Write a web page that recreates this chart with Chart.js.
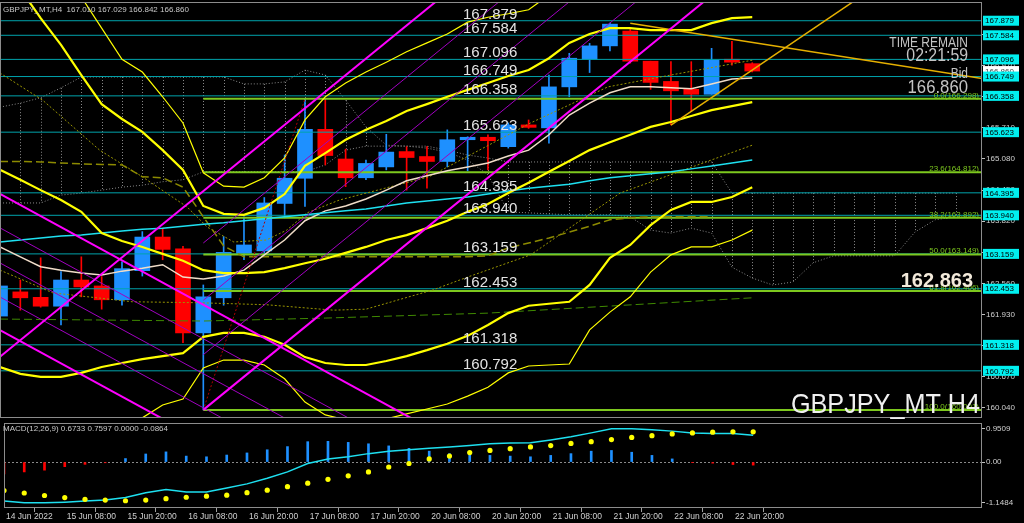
<!DOCTYPE html>
<html>
<head>
<meta charset="utf-8">
<script src="https://cdn.jsdelivr.net/npm/chart.js@4.4.1/dist/chart.umd.min.js"></script>
<style>
  html, body { margin: 0; padding: 0; background: #000; overflow: hidden; }
  #wrap { position: relative; width: 1024px; height: 523px; background: #000; }
  canvas { position: absolute; left: 0; }
  #main { top: 0; }
  #macd { top: 419px; }
</style>
</head>
<body>
<div id="wrap">
  <canvas id="main" width="1024" height="420"></canvas>
  <canvas id="macd" width="1024" height="104"></canvas>
</div>
<script>
// ---- data (H4 bars, 14 Jun 20:00 .. 23 Jun 00:00) ----
const timeLabels = ['14 Jun 2022', '15 Jun 08:00', '15 Jun 20:00', '16 Jun 08:00', '16 Jun 20:00', '17 Jun 08:00',
  '17 Jun 20:00', '20 Jun 08:00', '20 Jun 20:00', '21 Jun 08:00', '21 Jun 20:00', '22 Jun 08:00', '22 Jun 20:00'];
const timeLabelBars = [0, 3, 6, 9, 12, 15, 18, 21, 24, 27, 30, 33, 36];

const openP  = [161.90,162.39,162.28,162.10,162.63,162.51,162.23,162.82,163.50,163.26,161.56,162.27,163.17,163.22,164.18,164.69,165.68,165.08,164.70,164.92,165.23,165.13,165.03,165.47,165.52,165.33,165.77,165.71,166.54,167.10,167.37,167.67,167.06,166.65,166.49,166.39,167.10,167.010];
const highP  = [162.56,162.63,163.08,162.80,163.10,162.70,163.00,163.61,163.68,163.31,162.53,163.51,163.91,164.30,165.16,166.298,166.28,165.28,165.06,165.58,165.33,165.33,165.67,165.53,165.57,165.81,165.87,166.78,167.22,167.42,167.83,167.73,167.06,167.05,167.05,167.32,167.46,167.029];
const lowP   = [161.85,162.02,162.08,161.72,162.29,162.04,162.12,162.71,163.04,161.36,160.001,162.12,163.04,163.17,163.89,164.12,164.96,164.52,164.66,164.86,164.45,164.49,164.92,164.84,164.86,165.30,165.70,165.40,166.34,166.83,167.27,167.02,166.49,165.768,166.04,166.39,166.98,166.842];
const closeP = [162.51,162.27,162.10,162.63,162.49,162.23,162.86,163.50,163.25,161.56,162.29,163.19,163.34,164.19,164.69,165.68,165.15,164.70,164.99,165.22,165.11,165.03,165.47,165.52,165.45,165.77,165.72,166.54,167.12,167.37,167.81,167.06,166.63,166.46,166.39,167.08,167.04,166.860];

// yellow bands
const upperOuter = [171.0,170.22,169.57,168.97,168.36,167.73,167.10,166.84,166.34,165.81,164.80,164.53,164.51,164.70,165.10,165.87,166.34,166.62,166.84,167.04,167.25,167.43,167.61,167.85,167.95,168.02,168.10,168.40,168.70,168.90,169.0,169.0,168.9,168.8,168.7,168.7,168.6,168.6];
const upperInner = [169.07,168.52,167.93,167.39,166.78,166.19,165.89,165.63,165.26,164.86,164.13,163.97,163.95,164.09,164.37,164.94,165.20,165.47,165.67,165.85,166.05,166.19,166.34,166.48,166.62,166.76,166.88,167.12,167.43,167.61,167.73,167.73,167.69,167.69,167.69,167.83,167.93,167.95];
const midBand    = [164.86,164.66,164.45,164.25,164.01,163.58,163.42,163.30,163.16,163.02,162.83,162.77,162.77,162.79,162.87,162.97,163.06,163.18,163.30,163.44,163.54,163.68,163.83,164.01,164.17,164.39,164.60,164.82,165.04,165.26,165.42,165.57,165.73,165.83,165.95,166.07,166.15,166.23];
const lowerInner = [160.87,160.73,160.67,160.67,160.75,160.87,160.95,161.03,161.09,161.15,161.48,161.56,161.56,161.48,161.32,161.07,160.95,160.91,160.91,160.99,161.09,161.21,161.34,161.50,161.72,161.96,162.11,162.15,162.19,162.53,163.08,163.34,163.74,164.05,164.21,164.21,164.31,164.51];
const lowerOuter = [158.78,158.89,158.99,159.09,159.29,159.49,159.63,159.84,160.10,160.22,160.85,161.01,161.01,160.91,160.63,160.16,159.90,159.80,159.78,159.82,159.92,160.02,160.12,160.28,160.46,160.75,160.89,160.91,160.93,161.62,161.98,162.29,162.79,163.14,163.30,163.30,163.44,163.64];

// moving averages
const beigeMA = [163.30,163.10,162.90,162.83,162.77,162.73,162.81,162.87,162.94,162.69,162.65,162.71,162.83,163.14,163.44,163.83,164.03,164.13,164.27,164.45,164.64,164.74,164.84,164.92,165.00,165.14,165.26,165.57,165.97,166.21,166.42,166.54,166.54,166.52,166.50,166.60,166.70,166.72];
const cyanMA  = [163.40,163.44,163.48,163.52,163.54,163.58,163.62,163.66,163.68,163.72,163.76,163.79,163.83,163.87,163.91,163.95,163.99,164.03,164.07,164.13,164.19,164.23,164.27,164.31,164.37,164.43,164.49,164.53,164.57,164.64,164.70,164.74,164.78,164.82,164.88,164.94,165.00,165.06];
const kijunDash = [165.03,165.03,165.02,165.00,164.98,164.97,164.96,164.72,164.70,164.51,163.91,163.32,163.10,163.10,163.10,163.10,163.10,163.10,163.10,163.10,163.10,163.10,163.10,163.10,163.12,163.28,163.38,163.48,163.60,163.72,163.85,163.89,163.91,163.91,163.91,163.91];
const greenDashBars = [0, 10, 16, 24, 37];
const greenDashP    = [161.84, 161.80, 161.86, 161.96, 162.27];
const oliveDotABars = [0, 2.1, 4.9, 7, 9.2, 10.2, 11.5, 13.1, 14.1, 15.1, 16.7, 21.1, 26.1, 29.9, 33, 37];
const oliveDotAP    = [166.82,166.27,165.26,164.72,164.11,163.70,163.40,163.44,163.64,163.99,164.25,164.72,165.81,166.54,166.78,167.08];
const oliveDotBBars = [0, 2.6, 6.5, 9.8, 13.1, 16.4, 18, 21.3, 23, 26.1, 30.5, 37];
const oliveDotBP    = [162.83,162.37,162.19,162.17,162.13,162.02,162.04,162.43,162.69,163.14,164.39,165.36];

// ichimoku cloud (shifted forward)
const senkouA = [166.13,166.21,166.32,166.52,166.74,166.74,166.74,166.74,166.74,166.74,166.74,166.74,166.60,166.60,166.64,166.88,166.78,166.27,165.73,165.36,165.34,165.34,165.26,165.16,165.10,165.02,165.02,165.02,165.02,165.02,165.02,165.02,165.02,165.02,165.02,165.02,164.39,164.39,164.39,164.39,164.39,164.39,164.39,164.39,164.39,164.39,164.39,164.39];
const senkouB = [164.19,164.19,164.19,164.35,164.39,164.45,164.51,164.55,164.62,164.66,164.82,164.82,164.82,164.82,164.82,164.82,164.96,165.26,165.34,165.34,165.34,165.30,165.22,165.06,164.76,164.01,163.99,163.97,163.95,163.95,163.95,163.91,163.64,163.58,163.68,163.58,162.89,162.67,162.53,162.59,162.98,163.12,163.12,163.12,163.12,163.60,163.85,163.91];

// horizontal levels and fibonacci
const levels = [167.879, 167.584, 167.096, 166.749, 166.358, 165.623, 164.395, 163.940, 163.159, 162.453, 161.318, 160.792];
const bidPrice = 166.860;
const fibRatios = ['0.0', '23.6', '38.2', '50.0', '61.8', '100.0'];
const fibPrices = [166.298, 164.812, 163.892, 163.149, 162.406, 160.001];
const fibStartBar = 10;
const axisTicks = [160.040, 160.670, 161.300, 161.930, 162.560, 163.190, 163.820, 164.450, 165.080, 165.710, 166.340, 166.970, 167.600];

// trend lines: [bar, price] pairs
const upChannelThick = [[[-1, 160.74], [25, 169.46]], [[10, 160.001], [40, 170.07]]];
const upChannelThin = [[[10, 163.38], [40, 173.45]], [[10, 162.22], [40, 172.29]], [[10, 161.12], [40, 171.19]]];
const downChannelThick = [[[-1, 164.60], [30, 157.64]], [[-1, 161.84], [20, 157.13]]];
const downChannelThin = [[[-1, 163.91], [30, 156.95]], [[-1, 163.20], [30, 156.25]], [[-1, 162.51], [30, 155.56]]];
const goldLines = [[[31, 167.83], [50, 166.60]], [[33, 165.768], [45, 169.11]]];
const fibDiagonal = [[10, 160.001], [15, 166.298]];

// MACD(12,26,9)
const macdHist = [-0.34,-0.28,-0.23,-0.13,-0.065,-0.02,0.10,0.23,0.29,0.17,0.15,0.20,0.26,0.35,0.44,0.58,0.59,0.56,0.52,0.46,0.39,0.31,0.24,0.26,0.19,0.17,0.15,0.19,0.24,0.31,0.33,0.28,0.19,0.09,-0.01,-0.03,-0.07,-0.0864];
const macdSignal = [-1.11,-1.16,-1.16,-1.14,-1.11,-1.08,-1.01,-0.87,-0.78,-0.85,-0.85,-0.74,-0.62,-0.46,-0.28,-0.04,0.09,0.15,0.24,0.31,0.35,0.39,0.43,0.47,0.52,0.54,0.55,0.63,0.72,0.83,0.95,0.95,0.92,0.88,0.83,0.81,0.81,0.7597];
const macdDots = [-0.81,-0.88,-0.95,-1.01,-1.06,-1.08,-1.10,-1.08,-1.04,-1.00,-0.97,-0.94,-0.87,-0.80,-0.70,-0.60,-0.49,-0.39,-0.28,-0.14,-0.04,0.09,0.17,0.27,0.33,0.38,0.43,0.47,0.53,0.58,0.64,0.70,0.75,0.80,0.83,0.85,0.86,0.86];
const macdTicks = [0.9509, 0, -1.1484];

// ---- chart ----
const FONT = '"Liberation Sans", Arial, sans-serif';
Chart.defaults.font.family = FONT;
const BULL = '#1e90ff', BEAR = '#ff0000';
const X_MAX = 48.3;

const line = (xs, ys, style) => Object.assign({
  type: 'line', data: xs.map((x, i) => ({ x, y: ys[i] })),
  pointRadius: 0, fill: false, tension: 0, clip: 0, borderWidth: 1
}, style);
const series = (ys, style) => line(ys.map((_, i) => i), ys, style);
const segment = (seg, style) => line(seg.map(p => p[0]), seg.map(p => p[1]), style);

const bars = openP.map((_, i) => i);
const candleColor = bars.map(i => closeP[i] >= openP[i] ? BULL : BEAR);

const mainSets = [
  { type: 'bar', data: bars.map(i => ({ x: i, y: [lowP[i], highP[i]] })), backgroundColor: candleColor,
    grouped: false, maxBarThickness: 1, categoryPercentage: 1, barPercentage: 1, order: 60, clip: 0 },
  { type: 'bar', data: bars.map(i => ({ x: i, y: [openP[i], closeP[i]] })), backgroundColor: candleColor,
    grouped: false, maxBarThickness: 15, categoryPercentage: 1, barPercentage: 1, minBarLength: 1, order: 59, clip: 0 }
];
levels.forEach(p => mainSets.push(line([-1, 50], [p, p], { borderColor: '#00a3ab', order: 50 })));
fibPrices.forEach(p => mainSets.push(line([fibStartBar, 50], [p, p], { borderColor: '#7dc81e', borderWidth: 2, order: 49 })));
mainSets.push(line(greenDashBars, greenDashP, { borderColor: '#3f8a00', borderDash: [8, 4], order: 40 }));
mainSets.push(series(kijunDash, { borderColor: '#8c8a00', borderDash: [8, 4], borderWidth: 1.5, order: 40 }));
mainSets.push(line(oliveDotABars, oliveDotAP, { borderColor: '#9a9600', borderDash: [2, 2], order: 40 }));
mainSets.push(line(oliveDotBBars, oliveDotBP, { borderColor: '#9a9600', borderDash: [2, 2], order: 40 }));
mainSets.push(series(cyanMA, { borderColor: '#1ee0f0', borderWidth: 1.5, order: 30 }));
mainSets.push(series(beigeMA, { borderColor: '#f0dcc8', borderWidth: 1.5, order: 30 }));
mainSets.push(series(upperOuter, { borderColor: '#ffff00', borderWidth: 1.2, order: 20 }));
mainSets.push(series(lowerOuter, { borderColor: '#ffff00', borderWidth: 1.2, order: 20 }));
mainSets.push(series(upperInner, { borderColor: '#ffff00', borderWidth: 2.2, order: 20 }));
mainSets.push(series(midBand, { borderColor: '#ffff00', borderWidth: 2.2, order: 20 }));
mainSets.push(series(lowerInner, { borderColor: '#ffff00', borderWidth: 2.2, order: 20 }));
upChannelThick.concat(downChannelThick).forEach(s => mainSets.push(segment(s, { borderColor: '#ff00ff', borderWidth: 2, order: 10 })));
upChannelThin.concat(downChannelThin).forEach(s => mainSets.push(segment(s, { borderColor: '#a000c0', borderWidth: 1, order: 10 })));
goldLines.forEach(s => mainSets.push(segment(s, { borderColor: '#e6b000', borderWidth: 1.5, order: 10 })));
mainSets.push(segment(fibDiagonal, { borderColor: '#b00000', borderDash: [2, 2], order: 10 }));

function text(ctx, str, x, y, font, color, align, sx) {
  ctx.save();
  ctx.font = font; ctx.fillStyle = color; ctx.textAlign = align || 'left'; ctx.textBaseline = 'alphabetic';
  ctx.translate(x, y); ctx.scale(sx || 1, 1);
  ctx.fillText(str, 0, 0);
  ctx.restore();
}

function frame(ctx, a) {
  ctx.save();
  ctx.strokeStyle = '#8c8c8c'; ctx.lineWidth = 1;
  ctx.strokeRect(a.left + 0.5, a.top + 0.5, a.right - a.left - 1, a.bottom - a.top - 1);
  ctx.restore();
}

const mainDecor = {
  id: 'mainDecor',
  beforeDatasetsDraw(chart) {
    const { ctx, chartArea: a, scales: { x, y } } = chart;
    ctx.save();
    ctx.beginPath(); ctx.rect(a.left, a.top, a.right - a.left, a.bottom - a.top); ctx.clip();
    ctx.strokeStyle = '#8a8a8a'; ctx.lineWidth = 1; ctx.setLineDash([1, 2]);
    senkouA.forEach((v, i) => {
      const px = Math.round(x.getPixelForValue(i)) + 0.5;
      ctx.beginPath();
      ctx.moveTo(px, y.getPixelForValue(v));
      ctx.lineTo(px, y.getPixelForValue(senkouB[i]));
      ctx.stroke();
    });
    [senkouA, senkouB].forEach(s => {
      ctx.beginPath();
      s.forEach((v, i) => {
        const px = x.getPixelForValue(i), py = y.getPixelForValue(v);
        if (i) ctx.lineTo(px, py); else ctx.moveTo(px, py);
      });
      ctx.stroke();
    });
    ctx.restore();
  },
  afterDraw(chart) {
    const { ctx, chartArea: a, scales: { y } } = chart;
    frame(ctx, a);
    // level captions inside the plot
    levels.forEach(p => text(ctx, p.toFixed(3), 463, y.getPixelForValue(p) - 2, '15px ' + FONT, '#e4e4e4'));
    // fibonacci captions
    fibPrices.forEach((p, i) => text(ctx, fibRatios[i] + '(' + p.toFixed(3) + ')', 979, y.getPixelForValue(p) - 1,
      '8px ' + FONT, '#7dc81e', 'right'));
    // price boxes on the axis
    ctx.save();
    ctx.font = '8px ' + FONT; ctx.textBaseline = 'middle';
    const by = y.getPixelForValue(bidPrice);
    ctx.fillStyle = '#ffffff'; ctx.fillRect(983, by - 5, 36, 10);
    ctx.fillStyle = '#404040'; ctx.fillText(bidPrice.toFixed(3), 985, by + 0.5);
    levels.forEach(p => {
      const py = y.getPixelForValue(p);
      ctx.fillStyle = '#00f0f0'; ctx.fillRect(983, py - 5, 36, 10);
      ctx.fillStyle = '#000000'; ctx.fillText(p.toFixed(3), 985, py + 0.5);
    });
    ctx.restore();
    // texts
    text(ctx, 'GBPJPY_MT,H4  ' + [openP[37], highP[37], lowP[37], closeP[37]].map(v => v.toFixed(3)).join(' '),
      3, 12, '8px ' + FONT, '#c8c8c8');
    text(ctx, 'TIME REMAIN', 968, 47, '15px ' + FONT, '#c4c4c4', 'right', 0.8);
    text(ctx, '02:21:59', 968, 61, '18px ' + FONT, '#c4c4c4', 'right', 0.88);
    text(ctx, 'Bid', 968, 78, '15px ' + FONT, '#c4c4c4', 'right', 0.8);
    text(ctx, bidPrice.toFixed(3), 968, 93, '19px ' + FONT, '#c4c4c4', 'right', 0.88);
    text(ctx, '162.863', 973, 287, 'bold 20px ' + FONT, '#f3eadb', 'right');
    text(ctx, 'GBPJPY_MT H4', 980, 413, '28px ' + FONT, '#f0f0f0', 'right', 0.9);
  }
};

new Chart(document.getElementById('main'), {
  type: 'bar',
  data: { datasets: mainSets },
  options: {
    responsive: false, animation: false, events: [],
    layout: { padding: { top: 2, bottom: 2, left: 0, right: 0 } },
    plugins: { legend: { display: false }, tooltip: { enabled: false } },
    scales: {
      x: { type: 'linear', min: 0, max: X_MAX, offset: false, display: false },
      y: {
        type: 'linear', position: 'right', min: 159.837, max: 168.258,
        afterBuildTicks: s => { s.ticks = axisTicks.map(v => ({ value: v })); },
        afterFit: s => { s.width = 42; s.paddingTop = 0; s.paddingBottom = 0; },
        ticks: { autoSkip: false, padding: 1, color: '#d0d0d0', font: { size: 8 }, callback: v => v.toFixed(3) },
        grid: { drawOnChartArea: false, drawTicks: true, tickLength: 3, color: '#c0c0c0' },
        border: { display: false }
      }
    }
  },
  plugins: [mainDecor]
});

const macdDecor = {
  id: 'macdDecor',
  beforeDatasetsDraw(chart) {
    const { ctx, chartArea: a, scales: { y } } = chart;
    const zy = Math.round(y.getPixelForValue(0)) + 0.5;
    ctx.save();
    ctx.strokeStyle = '#8a8a8a'; ctx.setLineDash([2, 2]); ctx.lineWidth = 1;
    ctx.beginPath(); ctx.moveTo(a.left, zy); ctx.lineTo(a.right, zy); ctx.stroke();
    ctx.restore();
  },
  afterDraw(chart) {
    const { ctx, chartArea: a } = chart;
    frame(ctx, a);
    text(ctx, 'MACD(12,26,9) 0.6733 0.7597 0.0000 -0.0864', 3, 12, '8px ' + FONT, '#c8c8c8');
  }
};

new Chart(document.getElementById('macd'), {
  type: 'bar',
  data: {
    datasets: [
      { type: 'bar', data: macdHist.map((v, i) => ({ x: i, y: v })),
        backgroundColor: macdHist.map(v => v >= 0 ? BULL : BEAR),
        grouped: false, maxBarThickness: 2, categoryPercentage: 1, barPercentage: 1, order: 3, clip: 0 },
      series(macdSignal, { borderColor: '#1ee0f0', borderWidth: 1.5, order: 2 }),
      Object.assign(series(macdDots, { showLine: false, order: 1 }),
        { pointRadius: 2.6, pointBackgroundColor: '#ffff00', pointBorderWidth: 0 })
    ]
  },
  options: {
    responsive: false, animation: false, events: [],
    layout: { padding: { top: 2, bottom: 0, left: 0, right: 0 } },
    plugins: { legend: { display: false }, tooltip: { enabled: false } },
    scales: {
      x: {
        type: 'linear', min: 0, max: X_MAX, offset: false, position: 'bottom',
        afterBuildTicks: s => { s.ticks = timeLabelBars.map(v => ({ value: v })); },
        afterFit: s => { s.height = 15; s.paddingLeft = 0; s.paddingRight = 0; },
        ticks: { autoSkip: false, maxRotation: 0, align: 'start', labelOffset: 2, padding: 0,
          color: '#d0d0d0', font: { size: 8.5 }, callback: (v, i) => timeLabels[i] },
        grid: { drawOnChartArea: false, drawTicks: true, tickLength: 4, color: '#a0a0a0' },
        border: { display: false }
      },
      y: {
        type: 'linear', position: 'right', min: -1.306, max: 1.111,
        afterBuildTicks: s => { s.ticks = macdTicks.map(v => ({ value: v })); },
        afterFit: s => { s.width = 42; s.paddingTop = 0; s.paddingBottom = 0; },
        ticks: { autoSkip: false, padding: 1, color: '#d0d0d0', font: { size: 8 },
          callback: v => v === 0 ? '0.00' : String(v) },
        grid: { drawOnChartArea: false, drawTicks: true, tickLength: 3, color: '#c0c0c0' },
        border: { display: false }
      }
    }
  },
  plugins: [macdDecor]
});
</script>
</body>
</html>
